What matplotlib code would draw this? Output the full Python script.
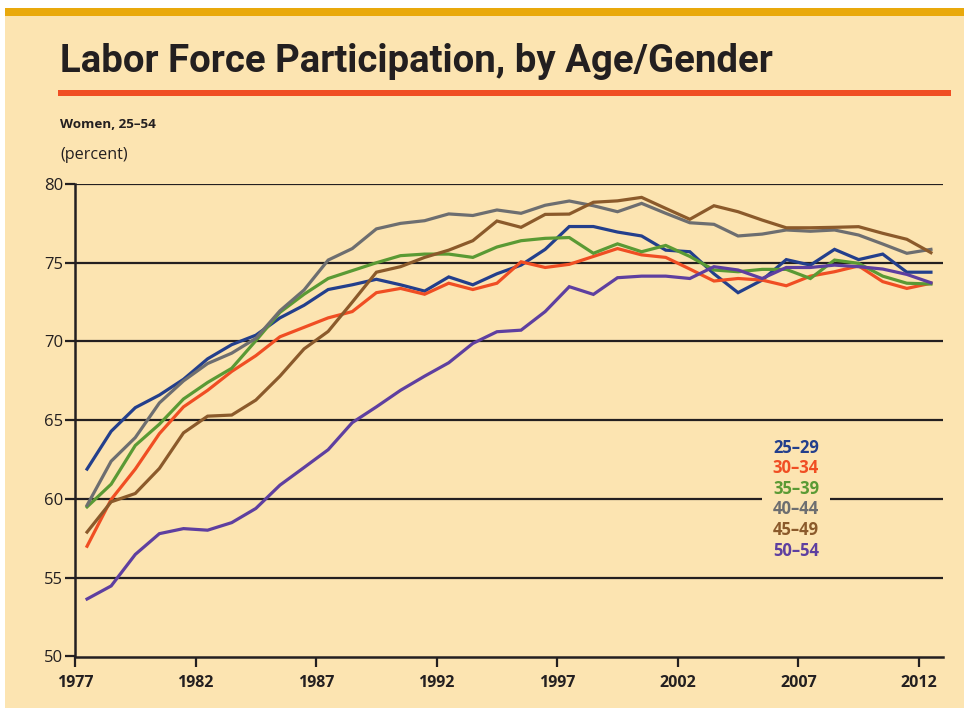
import matplotlib
matplotlib.use("Agg")
import matplotlib.pyplot as plt
from matplotlib import font_manager
from matplotlib.patches import Rectangle

# ---------------- data ----------------
years = list(range(1977, 2013))
age_groups = ["25\u201329", "30\u201334", "35\u201339", "40\u201344", "45\u201349", "50\u201354"]

w25_29 = [61.9, 64.3, 65.8, 66.6, 67.6, 68.9, 69.8, 70.4, 71.5, 72.3, 73.3, 73.6,
          73.95, 73.6, 73.2, 74.1, 73.6, 74.3, 74.85, 75.85, 77.3, 77.3, 76.95, 76.7,
          75.8, 75.7, 74.3, 73.1, 73.9, 75.2, 74.85, 75.85, 75.2, 75.55, 74.4, 74.4]
w30_34 = [57.0, 59.97, 61.9, 64.15, 65.85, 66.9, 68.1, 69.1, 70.3, 70.9, 71.5, 71.9,
          73.1, 73.37, 73.0, 73.7, 73.3, 73.7, 75.06, 74.7, 74.9, 75.4, 75.9, 75.5,
          75.34, 74.6, 73.84, 74.0, 73.9, 73.54, 74.15, 74.43, 74.8, 73.8, 73.37, 73.7]
w35_39 = [59.5, 60.94, 63.4, 64.75, 66.35, 67.4, 68.3, 70.05, 71.85, 73.0, 74.0, 74.5,
          75.0, 75.45, 75.55, 75.55, 75.34, 76.0, 76.4, 76.55, 76.6, 75.6, 76.2, 75.7,
          76.1, 75.4, 74.54, 74.43, 74.58, 74.58, 74.0, 75.17, 74.96, 74.15, 73.7, 73.65]
w40_44 = [59.6, 62.4, 63.9, 66.1, 67.5, 68.6, 69.26, 70.2, 71.95, 73.27, 75.17, 75.9,
          77.15, 77.5, 77.67, 78.1, 78.0, 78.35, 78.14, 78.65, 78.92, 78.62, 78.24, 78.77,
          78.14, 77.54, 77.44, 76.7, 76.82, 77.08, 77.0, 77.08, 76.76, 76.19, 75.6, 75.85]
w45_49 = [57.9, 59.82, 60.35, 61.94, 64.2, 65.26, 65.33, 66.28, 67.8, 69.53, 70.64, 72.5,
          74.4, 74.75, 75.34, 75.8, 76.4, 77.65, 77.25, 78.07, 78.09, 78.84, 78.93, 79.15,
          78.45, 77.76, 78.62, 78.24, 77.71, 77.22, 77.22, 77.25, 77.29, 76.87, 76.49, 75.64]
w50_54 = [53.65, 54.48, 56.48, 57.8, 58.12, 58.02, 58.5, 59.4, 60.88, 62.0, 63.13, 64.85,
          65.85, 66.9, 67.8, 68.65, 69.88, 70.62, 70.72, 71.9, 73.48, 72.99, 74.05, 74.15,
          74.15, 74.0, 74.75, 74.54, 74.0, 74.7, 74.7, 74.85, 74.75, 74.6, 74.26, 73.73]

series = [w25_29, w30_34, w35_39, w40_44, w45_49, w50_54]
colors = ["#233F8C", "#F04E23", "#5A9A34", "#6D6E70", "#8B5A2B", "#5E3FA0"]

x_ticks = [1977, 1982, 1987, 1992, 1997, 2002, 2007, 2012]
y_ticks = [50, 55, 60, 65, 70, 75, 80]

title = "Labor Force Participation, by Age/Gender"
subtitle = "Women, 25\u201354"
unit = "(percent)"

# ---------------- style ----------------
names = {f.name for f in font_manager.fontManager.ttflist}
title_font = "Liberation Sans Narrow" if "Liberation Sans Narrow" in names else "Roboto"
body_font = "Open Sans" if "Open Sans" in names else "DejaVu Sans"

BG = "#FCE4B1"
DARK = "#231F20"
W, H = 964, 708

fig = plt.figure(figsize=(W / 100, H / 100), dpi=100, facecolor="white")

def fx(px):
    return px / W

def fy(py):
    return 1 - py / H

# background panel + gold top bar + red rule
fig.patches.append(Rectangle((fx(5), 0), 1 - fx(5), fy(8), transform=fig.transFigure,
                             facecolor=BG, edgecolor="none", zorder=-3))
fig.patches.append(Rectangle((fx(5), fy(16)), 1 - fx(5), fy(8) - fy(16), transform=fig.transFigure,
                             facecolor="#E9A90C", edgecolor="none", zorder=-2))
fig.patches.append(Rectangle((fx(58), fy(96)), fx(951) - fx(58), fy(90) - fy(96), transform=fig.transFigure,
                             facecolor="#F04E23", edgecolor="none", zorder=-2))

fig.text(fx(60), fy(72), title, family=[title_font, "DejaVu Sans"], fontweight="bold",
         fontsize=27.6, color=DARK, va="baseline", ha="left")
fig.text(fx(60), fy(125), subtitle, family=[body_font, "DejaVu Sans"], fontweight="bold",
         fontsize=9.7, color=DARK, va="center", ha="left")
fig.text(fx(60), fy(155), unit, family=[body_font, "DejaVu Sans"],
         fontsize=11.6, color=DARK, va="center", ha="left")

left, right, top, bottom = 75, 943, 184, 656.5
ax = fig.add_axes([fx(left), fy(bottom), fx(right) - fx(left), fy(top) - fy(bottom)])
ax.set_facecolor("none")
ax.set_zorder(5)

for yv in y_ticks[1:]:
    ax.axhline(yv, color=DARK, lw=1.6, zorder=1)

xs = [y + 0.5 for y in years]
for vals, c in zip(series, colors):
    ax.plot(xs, vals, color=c, lw=2.3, zorder=3, solid_joinstyle="miter")

ax.set_xlim(1977, 2013)
ax.set_ylim(50, 80)
ax.set_xticks(x_ticks)
ax.set_yticks(y_ticks)
ax.set_xticklabels([str(t) for t in x_ticks], fontweight="bold", family=[body_font, "DejaVu Sans"],
                   fontsize=11.5, color=DARK)
ax.set_yticklabels([str(t) for t in y_ticks], family=[body_font, "DejaVu Sans"],
                   fontsize=12, color=DARK)
ax.tick_params(axis="both", direction="out", length=7.2, width=1.6, color=DARK)
ax.tick_params(axis="x", pad=6)
ax.tick_params(axis="y", pad=1.5)

for s in ["top", "right"]:
    ax.spines[s].set_visible(False)
for s in ["left", "bottom"]:
    ax.spines[s].set_color(DARK)
    ax.spines[s].set_linewidth(1.8)

# legend as colored labels on a background patch
ax.add_patch(Rectangle((0.7915, 0.205), 0.0785, 0.257, transform=ax.transAxes,
                       facecolor=BG, edgecolor="none", zorder=2))
y0, dy = 0.442, 0.0436
for i, (lab, c) in enumerate(zip(age_groups, colors)):
    ax.text(0.8306, y0 - i * dy, lab, transform=ax.transAxes, color=c, fontweight="bold",
            family=[body_font, "DejaVu Sans"], fontsize=12, ha="center", va="center", zorder=4)

fig.savefig("out.png", dpi=100, facecolor="white")
